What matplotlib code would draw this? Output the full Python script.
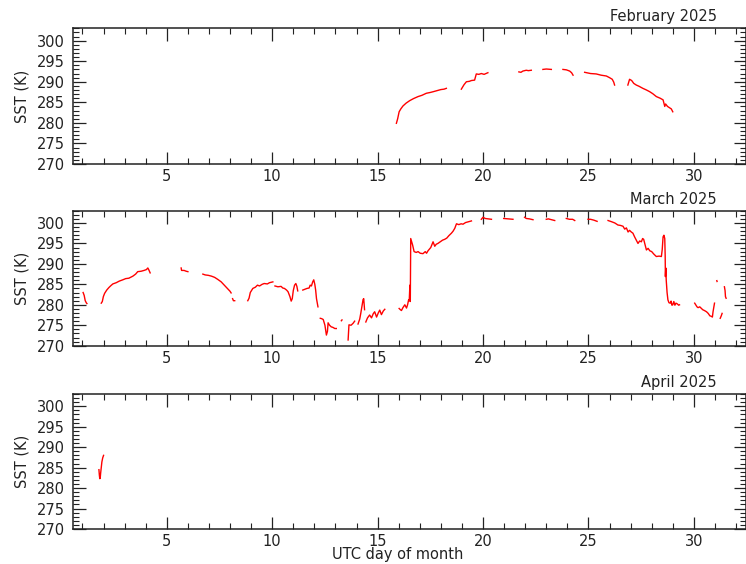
import numpy as np
import matplotlib
matplotlib.use("Agg")
import matplotlib.pyplot as plt
from matplotlib.ticker import MultipleLocator

nan = np.nan

# ---------------- data (UTC day of month, SST in K); NaN marks data gaps ----------------
feb_day = [15.89, 15.95, 16.02, 16.1, 16.2, 16.35, 16.52, 16.7, 16.92, 17.1, 17.31, 17.5, 17.65, 17.79, 18.0, 18.15, 18.26, nan,
           18.97, 19.1, 19.21, 19.35, 19.45, 19.6, 19.68, 19.8, 19.92, 20.05, 20.23, nan,
           21.7, 21.8, 21.89, 22.05, 22.15, 22.29, nan,
           22.84, 23.0, 23.24, nan,
           23.79, 23.95, 24.11, 24.2, 24.27, nan,
           24.82, 25.1, 25.37, 25.6, 25.85, 26.0, 26.13, 26.2, 26.24, nan,
           26.87, 26.95, 27.05, 27.15, 27.27, 27.4, 27.58, 27.75, 27.9, 28.05, 28.22, 28.4, 28.54, 28.62, 28.66, 28.75, 28.93, 29.0]
feb_sst = [279.9, 281.0, 282.7, 283.4, 284.1, 284.8, 285.4, 285.9, 286.4, 286.7, 287.2, 287.4, 287.6, 287.8, 288.1, 288.2, 288.4, nan,
           288.2, 289.3, 290.0, 290.1, 290.3, 290.4, 291.9, 291.8, 292.0, 291.8, 292.2, nan,
           292.4, 292.3, 292.6, 292.8, 292.7, 292.8, nan,
           293.0, 293.1, 293.0, nan,
           293.0, 292.9, 292.6, 292.2, 291.6, nan,
           292.3, 292.0, 291.9, 291.6, 291.4, 291.0, 290.6, 289.9, 289.2, nan,
           289.2, 290.6, 290.3, 289.6, 289.2, 288.9, 288.4, 288.0, 287.6, 287.1, 286.4, 286.0, 285.6, 284.0, 284.6, 284.0, 283.4, 282.7]

mar_day = [1.03, 1.08, 1.13, 1.18, 1.21, nan,
           1.89, 1.94, 1.99, 2.05, 2.15, 2.25, 2.35, 2.44, 2.6, 2.75, 2.91, 3.05, 3.2, 3.39, 3.52, 3.62, 3.78, 3.92, 4.03, 4.1, 4.15, 4.21, nan,
           5.68, 5.7, 5.82, 5.92, 6.0, nan,
           6.71, 6.82, 6.97, 7.12, 7.27, 7.42, 7.58, 7.71, 7.81, 7.91, 8.0, 8.05, nan,
           8.12, 8.16, 8.22, nan,
           8.84, 8.9, 8.96, 9.08, 9.2, 9.3, 9.4, 9.52, 9.62, 9.77, 9.87, 10.03, nan,
           10.13, 10.27, 10.42, 10.5, 10.58, 10.68, 10.75, 10.84, 10.9, 10.95, 11.0, 11.06, 11.12, 11.17, 11.21, nan,
           11.45, 11.55, 11.65, 11.75, 11.8, 11.86, 11.92, 11.97, 12.02, 12.06, 12.1, 12.17, nan,
           12.28, 12.35, 12.42, 12.5, 12.57, 12.62, 12.65, 12.72, 12.8, 12.87, 12.97, 13.04, nan,
           13.28, 13.31, nan,
           13.6, 13.62, 13.64, 13.74, 13.84, 13.91, nan,
           14.07, 14.15, 14.2, 14.25, 14.31, 14.34, 14.38, nan,
           14.44, 14.52, 14.62, 14.71, 14.79, 14.86, 14.95, 15.03, 15.1, 15.18, 15.27, 15.34, nan,
           16.02, 16.08, 16.13, 16.2, 16.29, 16.37, 16.42, 16.47, 16.5, 16.53, 16.55, 16.57, 16.62, 16.66, 16.73, 16.83,
           16.92, 17.02, 17.15, 17.26, 17.32, 17.39, 17.52, 17.63, 17.71, 17.78, 17.86, 17.97, 18.08, 18.18, 18.28, 18.38,
           18.5, 18.58, 18.66, 18.74, 18.85, 18.96, 19.05, 19.17, 19.32, 19.45, nan,
           19.92, 20.0, 20.1, 20.25, 20.4, nan,
           20.98, 21.2, 21.42, nan,
           21.97, 22.05, 22.2, 22.37, nan,
           23.0, 23.1, 23.25, 23.4, nan,
           23.95, 24.1, 24.25, 24.35, nan,
           24.98, 25.1, 25.25, 25.41, nan,
           25.93, 26.1, 26.25, 26.4, 26.52, 26.64, 26.72, 26.8, 26.88, 26.95, 27.03, 27.11,
           27.19, 27.27, 27.35, 27.43, 27.51, 27.57, 27.62, 27.68, 27.75, 27.83, 27.91, 28.0, 28.1, 28.22, 28.35, 28.46,
           28.5, 28.54, 28.58, 28.62, 28.64, 28.65, 28.67, 28.69, 28.73, 28.77, 28.82, 28.88, 28.92, 28.96, 29.0, 29.05,
           29.1, 29.15, 29.22, 29.28, 29.32, nan,
           30.04, 30.1, 30.15, 30.2, 30.28, 30.36, 30.42, 30.5, 30.6, 30.68, 30.76, 30.82, 30.88, 30.91, 30.95, 30.98, nan,
           31.09, 31.1, nan,
           31.25, 31.3, 31.34, nan,
           31.45, 31.48, 31.5, 31.53]
mar_sst = [283.0, 282.3, 281.0, 280.5, 280.3, nan,
           280.4, 280.8, 282.0, 282.8, 283.6, 284.2, 284.7, 285.1, 285.4, 285.8, 286.1, 286.4, 286.5, 287.0, 287.5, 288.1, 288.2, 288.4, 288.6, 289.0, 288.5, 287.8, nan,
           289.0, 288.4, 288.4, 288.2, 288.1, nan,
           287.5, 287.3, 287.2, 287.0, 286.7, 286.2, 285.6, 284.9, 284.4, 283.8, 283.3, 282.9, nan,
           281.5, 281.0, 281.0, nan,
           281.0, 281.6, 283.0, 284.0, 284.3, 284.8, 284.6, 285.0, 285.2, 285.1, 285.4, 285.6, nan,
           284.6, 284.4, 284.5, 284.1, 284.0, 283.6, 283.2, 282.0, 280.9, 281.5, 283.5, 284.8, 285.2, 284.5, 283.4, nan,
           283.6, 283.8, 284.0, 284.1, 284.8, 284.6, 285.6, 286.1, 285.0, 283.6, 281.5, 279.5, nan,
           276.7, 276.6, 276.4, 275.0, 272.6, 273.5, 275.6, 275.0, 274.6, 274.5, 274.2, 274.2, nan,
           276.1, 276.3, nan,
           271.4, 273.5, 275.1, 275.0, 275.5, 276.0, nan,
           275.3, 276.5, 277.9, 279.5, 281.3, 281.5, 278.8, nan,
           275.8, 276.8, 277.5, 276.8, 277.8, 278.3, 277.0, 278.0, 278.7, 277.6, 278.5, 278.9, nan,
           279.1, 278.8, 278.6, 279.3, 280.0, 279.2, 280.0, 281.2, 281.0, 284.8, 280.8, 296.2, 295.3, 294.6, 293.0, 292.8,
           293.0, 292.6, 292.5, 293.0, 292.6, 293.2, 294.0, 295.4, 294.3, 294.8, 295.0, 295.4, 295.8, 296.0, 296.3, 296.9,
           297.5, 298.0, 298.7, 299.8, 299.6, 299.8, 299.7, 300.1, 300.3, 300.5, nan,
           300.9, 301.4, 301.1, 301.0, 300.9, nan,
           301.1, 301.0, 300.9, nan,
           301.4, 301.1, 301.0, 300.8, nan,
           300.9, 301.0, 300.8, 300.6, nan,
           301.1, 300.9, 300.9, 300.6, nan,
           300.9, 300.9, 300.7, 300.4, nan,
           300.6, 300.3, 300.0, 299.5, 299.4, 299.2, 298.5, 298.8, 297.8, 298.2, 297.8, 297.5,
           296.6, 295.8, 295.0, 295.6, 295.4, 296.2, 296.0, 294.8, 293.4, 293.8, 293.2, 293.0, 292.4, 291.8, 291.9, 291.8,
           293.5, 296.6, 297.0, 296.2, 292.0, 286.9, 289.0, 286.0, 283.0, 281.2, 280.5, 280.4, 280.9, 279.9, 280.0, 280.8,
           279.9, 280.4, 280.2, 279.9, 280.0, nan,
           280.4, 279.9, 279.5, 279.3, 279.5, 279.1, 278.8, 278.6, 278.3, 277.9, 277.3, 277.2, 277.0, 278.3, 279.5, 280.4, nan,
           285.9, 285.7, nan,
           276.7, 277.3, 277.9, nan,
           284.4, 283.5, 282.0, 281.6]

apr_day = [1.78, 1.8, 1.82, 1.84, 1.86, 1.89, 1.92, 1.96, 2.0]
apr_sst = [284.5, 283.2, 282.3, 282.4, 283.6, 285.0, 286.4, 287.4, 288.0]

titles = ["February 2025", "March 2025", "April 2025"]
x_major = [5, 10, 15, 20, 25, 30]
y_major = [270, 275, 280, 285, 290, 295, 300]

# ---------------- figure ----------------
W, H = 746, 564
fig = plt.figure(figsize=(W / 100, H / 100), dpi=100)
plt.rcParams['font.family'] = ['DejaVu Sans']
FS = 10.5
txt_col = '#222222'

left = 73 / W
width = 672.5 / W
panels = [(28.3, 164.0), (210.7, 345.7), (394.0, 529.0)]
series = [(feb_day, feb_sst), (mar_day, mar_sst), (apr_day, apr_sst)]

for (top, bot), (xd, yd), title in zip(panels, series, titles):
    ax = fig.add_axes([left, 1 - bot / H, width, (bot - top) / H])
    ax.plot(xd, yd, color='#ff0000', lw=1.0)
    ax.set_xlim(0.55, 32.45)
    ax.set_ylim(270, 303)
    ax.set_xticks(x_major)
    ax.set_yticks(y_major)
    ax.xaxis.set_minor_locator(MultipleLocator(1))
    ax.yaxis.set_minor_locator(MultipleLocator(1))
    ax.tick_params(which='both', direction='in', top=True, right=True, color='#222222',
                   labelsize=FS, labelcolor=txt_col)
    ax.tick_params(which='major', length=9, width=0.9)
    ax.tick_params(which='minor', length=4.5, width=0.8)
    ax.tick_params(axis='y', which='major', pad=6)
    ax.tick_params(axis='x', which='major', pad=3.5)
    for sp in ax.spines.values():
        sp.set_linewidth(1.1)
        sp.set_color('#222222')
    ax.annotate(title, xy=(0.957, 1.0), xycoords='axes fraction', xytext=(0, 5),
                textcoords='offset points', ha='right', va='baseline', fontsize=FS, color=txt_col)
    fig.text(22 / W, 1 - (top + bot) / 2 / H, 'SST (K)', rotation=90, ha='center', va='center',
             fontsize=FS, color=txt_col)

fig.text(397.5 / W, 1 - 555 / H, 'UTC day of month', ha='center', va='center', fontsize=FS, color=txt_col)

fig.savefig('out.png', dpi=100)
